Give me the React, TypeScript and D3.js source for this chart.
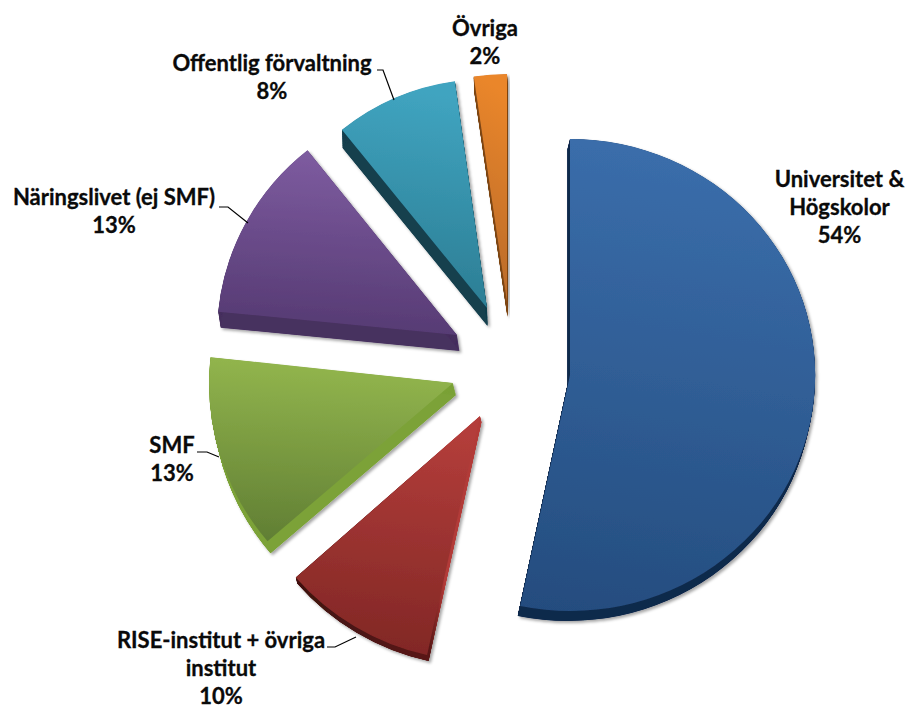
import React from "react";
import * as d3 from "d3";

// ---- data ----
const categories = ["Universitet & Högskolor", "RISE-institut + övriga institut", "SMF", "Näringslivet (ej SMF)", "Offentlig förvaltning", "Övriga"];
const shares = [54, 10, 13, 13, 8, 2];
const labelLines = [
  ["Universitet &", "Högskolor", "54%"],
  ["RISE-institut + övriga", "institut", "10%"],
  ["SMF", "13%"],
  ["Näringslivet (ej SMF)", "13%"],
  ["Offentlig förvaltning", "8%"],
  ["Övriga", "2%"],
];

// ---- styling and layout ----
const faceTop = ["#3a6daa", "#b33d3a", "#92b54d", "#7d5b9f", "#40a4c0", "#ea862c"];
const faceBottom = ["#244c7e", "#7e2624", "#5f7d33", "#533870", "#2a7a90", "#b5682b"];
const sideColors = ["#10294c", "#4a1413", "#7ba237", "#47305f", "#133f4e", "#7c4512"];
// apex, radii, edge adjustments in degrees for the perspective, extrusion direction
const sliceLayout = [
  { cx: 570, cy: 375, rx: 245, ry: 236, ds: 0, de: -2.7, dx: -2.5, dy: 10 },
  { cx: 480, cy: 416, rx: 245, ry: 245, ds: -1.9, de: -1.6, dx: 1.5, dy: 6 },
  { cx: 453, cy: 383, rx: 244, ry: 244, ds: -0.9, de: -1.1, dx: 3, dy: 12 },
  { cx: 457, cy: 335, rx: 240, ry: 236, ds: -1.5, de: -2.5, dx: 2.5, dy: 16 },
  { cx: 487, cy: 308, rx: 231, ry: 229, ds: -2.9, de: -0.8, dx: 0.5, dy: 18 },
  { cx: 507, cy: 302, rx: 228, ry: 228, ds: -1.2, de: 0, dx: 0.5, dy: 15 },
];
const labelPos = [
  { x: 839.5, y: 187 },
  { x: 221, y: 648 },
  { x: 172, y: 453 },
  { x: 114, y: 205 },
  { x: 272, y: 71 },
  { x: 485, y: 36 },
];
const leaders = [
  null,
  [[327, 647], [335, 647], [356, 637]],
  [[197, 452], [207, 452], [219, 457]],
  [[219, 207], [228, 207], [248, 223]],
  [[377, 70], [383, 70], [394, 100]],
  null,
];
const lineStep = 28;
const fontFamily = "Lato, Carlito, 'Open Sans', sans-serif";

export default function App() {
  const arcs = d3.pie<number>().sort(null).startAngle(0).endAngle(2 * Math.PI)(shares);
  const rad = Math.PI / 180;
  const arcGen = d3.arc<any>().innerRadius(0).outerRadius(1);
  const line = d3.line();
  const order = [0, 1, 2, 3, 4, 5];

  return (
    <svg width={907} height={709} style={{ position: "absolute", left: 0, top: 0, background: "#fff" }}>
      <defs>
        {categories.map((_, i) => (
          <linearGradient key={i} id={`face${i}`} x1="0.1" y1="0" x2="0" y2="1">
            <stop offset="0" stopColor={faceTop[i]} />
            <stop offset="1" stopColor={faceBottom[i]} />
          </linearGradient>
        ))}
        <linearGradient id="redSide" x1="0" y1="0" x2="1" y2="0">
          <stop offset="0" stopColor="#3f1110" />
          <stop offset="0.72" stopColor="#5a1817" />
          <stop offset="0.8" stopColor="#b23a38" />
          <stop offset="1" stopColor="#b23a38" />
        </linearGradient>
        <filter id="shadow" x="-10%" y="-10%" width="120%" height="120%">
          <feDropShadow dx="2" dy="2" stdDeviation="1.8" floodColor="#000" floodOpacity="0.35" />
        </filter>
        <filter id="soft" x="-5%" y="-5%" width="110%" height="110%">
          <feGaussianBlur stdDeviation="0.5" />
        </filter>
      </defs>

      {order.map((i) => {
        const a = arcs[i];
        const L = sliceLayout[i];
        const d = arcGen({
          startAngle: a.startAngle + L.ds * rad,
          endAngle: a.endAngle + L.de * rad,
        }) as string;
        const steps = d3.range(1, 41).map((k) => k / 40);
        const tf = (t: number) =>
          `translate(${L.cx + L.dx * t},${L.cy + L.dy * t}) scale(${L.rx},${L.ry})`;
        return (
          <g key={i} filter="url(#soft)">
            <g filter="url(#shadow)">
              {steps.map((t) => (
                <path key={t} d={d} transform={tf(t)} fill={i === 1 ? "url(#redSide)" : sideColors[i]} />
              ))}
              <path d={d} transform={tf(0)} fill={`url(#face${i})`} />
            </g>
          </g>
        );
      })}

      {leaders.map((pts, i) =>
        pts ? (
          <path key={i} d={line(pts as [number, number][]) as string} fill="none" stroke="#000" strokeWidth={1.2} />
        ) : null
      )}

      {labelLines.map((lines, i) => (
        <text
          key={i}
          textAnchor="middle"
          fontFamily={fontFamily}
          fontWeight={700}
          fontSize={22}
          fill="#0a0a0a"
          stroke="#0a0a0a"
          strokeWidth={0.3}
        >
          {lines.map((s, j) => (
            <tspan key={j} x={labelPos[i].x} y={labelPos[i].y + j * lineStep}>
              {s}
            </tspan>
          ))}
        </text>
      ))}
    </svg>
  );
}
